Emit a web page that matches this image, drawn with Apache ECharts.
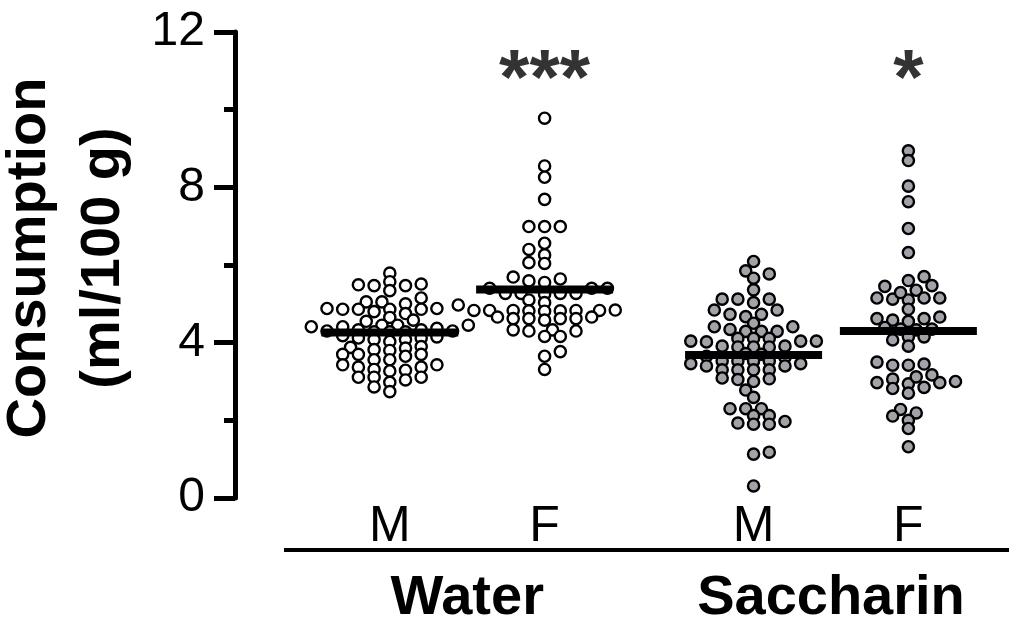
<!DOCTYPE html>
<html>
<head>
<meta charset="utf-8">
<script src="https://cdn.jsdelivr.net/npm/echarts@6/dist/echarts.min.js"></script>
<style>html,body{margin:0;padding:0;background:#fff}#c{width:1009px;height:627px}</style>
</head>
<body>
<div id="c"></div>
<script>
// ---------- data ----------
const sexLabels = ['M', 'F', 'M', 'F'];
const groupPositions = [1, 2, 3.35, 4.35];
const conditionLabels = ['Water', 'Saccharin'];
const conditionPositions = [1.5, 3.85];
const yTicks = [0, 4, 8, 12];
const significance = ['', '***', '', '*'];
const medians = [4.26, 5.37, 3.68, 4.30];

const waterM = [5.79, 5.57, 5.47, 5.47, 5.49, 5.51, 5.34, 5.15, 5.05, 5.00, 5.05,
  4.88, 4.86, 4.86, 4.80, 4.75, 4.86, 4.86, 4.88,
  4.65, 4.55, 4.58,
  4.45, 4.45, 4.41, 4.37, 4.41, 4.45,
  4.28, 4.28, 4.33, 4.33, 4.28, 4.30, 4.30,
  4.08, 4.18, 4.12, 4.12, 4.15, 4.08, 4.03,
  3.90, 3.86, 3.82, 3.88,
  3.80, 3.70, 3.65, 3.70, 3.70,
  3.56, 3.56, 3.43, 3.43,
  3.37, 3.29, 3.27, 3.31, 3.37,
  3.11, 3.11, 2.98, 3.04, 3.11,
  2.86, 2.74];
const waterF = [9.78, 8.55, 8.26, 7.69, 6.99, 6.99, 6.99, 6.56, 6.40, 6.26, 6.04, 6.06,
  5.69, 5.59, 5.55, 5.64,
  5.40, 5.40, 5.40,
  5.27, 5.27, 5.25, 5.27, 5.27,
  5.03, 4.97, 5.10,
  4.83, 4.83, 4.82, 4.84, 4.83, 4.81, 4.83, 4.82, 4.83,
  4.62, 4.62, 4.58, 4.66, 4.66, 4.62, 4.62,
  4.33, 4.30, 4.30, 4.33,
  4.16, 4.16,
  3.77, 3.65,
  3.31];
const saccM = [6.09, 5.85, 5.77, 5.66, 5.36, 5.12, 5.12, 5.12, 5.03, 4.84, 4.84, 4.73, 4.73,
  4.67, 4.50, 4.41, 4.41, 4.34, 4.29, 4.29, 4.29, 4.11, 4.11, 4.11, 4.04, 4.04, 4.04, 4.02,
  3.91, 3.91, 3.89, 3.89, 3.89,
  3.72, 3.65, 3.70, 3.62,
  3.46, 3.46, 3.40, 3.40, 3.53, 3.53, 3.53, 3.53, 3.30, 3.30, 3.30, 3.30,
  3.09, 3.05, 3.00, 3.07, 2.78, 2.59, 2.30, 2.30, 2.30, 2.12, 2.12,
  1.93, 1.90, 1.90, 1.97, 1.18, 1.13, 0.31];
const saccF = [8.94, 8.69, 8.03, 7.63, 6.94, 6.32, 5.70, 5.60, 5.45, 5.47, 5.35,
  5.15, 5.12, 5.10, 5.15, 5.15, 5.29, 4.86,
  4.62, 4.58, 4.55, 4.62, 4.66,
  4.39, 4.35, 4.33, 4.35,
  4.15, 4.07, 4.15, 3.91,
  3.45, 3.42, 3.50, 3.42,
  3.06, 2.97, 2.94, 2.82, 3.12, 3.17, 2.85, 2.97, 3.00, 2.70,
  2.19, 2.28, 2.00, 2.11, 1.79, 1.32];

const groups = [waterM, waterF, saccM, saccF];

// ---------- layout ----------
const W = 1009, H = 627;
const GRID = { left: 235, right: 0, top: 32, bottom: 129 };
const X_MIN = 0, X_MAX = 5, Y_MIN = 0, Y_MAX = 12;
const pxPerX = (W - GRID.left - GRID.right) / (X_MAX - X_MIN);
const pxPerY = (H - GRID.top - GRID.bottom) / (Y_MAX - Y_MIN);
const FONT = '"Liberation Sans", Arial, Helvetica, sans-serif';

// Prism-like dot layout on a half-column grid: a dot may sit beside another one
// (one full column apart) or diagonally (half a column) if the rows differ enough
function gridSwarm(vals) {
  const COL = 15.7, HALF = COL / 2, DY = 7.4;
  const order = vals.map((v, i) => i).sort((a, b) => vals[a] - vals[b] || a - b);
  const placed = [];
  const off = new Array(vals.length).fill(0);
  let flip = false;
  for (const i of order) {
    const y = vals[i] * pxPerY;
    let chosen = 0;
    for (let k = 0; k < 40; k++) {
      const cands = k === 0 ? [0] : (flip ? [-k * HALF, k * HALF] : [k * HALF, -k * HALF]);
      let found = null;
      for (const c of cands) {
        const clash = placed.some(p => {
          const ex = (p[0] - c) / COL, ey = (p[1] - y) / DY;
          return ex * ex + ey * ey < 0.999;
        });
        if (!clash) { found = c; break; }
      }
      if (found !== null) { chosen = found; break; }
    }
    flip = !flip;
    placed.push([chosen, y]);
    off[i] = chosen;
  }
  return off;
}

const fills = ['#ffffff', '#ffffff', '#a2a2a8', '#a2a2a8'];
const series = groups.map((vals, g) => {
  const off = gridSwarm(vals);
  return {
    type: 'scatter',
    data: vals.map((v, i) => [groupPositions[g] + off[i] / pxPerX, v]),
    symbol: 'circle',
    symbolSize: 11.2,
    itemStyle: { color: fills[g], borderColor: '#000', borderWidth: 2.4, opacity: 1 },
    z: 2,
    silent: true
  };
});
series.push({
  type: 'scatter',
  data: medians.map((m, g) => [groupPositions[g], m]),
  symbol: 'rect',
  symbolSize: [137, 8],
  itemStyle: { color: '#000', opacity: 1 },
  z: 5,
  silent: true
});
series.push({
  type: 'scatter',
  data: significance.map((s, g) => ({ value: [groupPositions[g], 10.7], label: { formatter: s } })),
  symbolSize: 1,
  itemStyle: { color: 'rgba(0,0,0,0)' },
  label: { show: true, position: 'inside', color: '#000', textBorderWidth: 0, fontSize: 78, fontWeight: 'bold', fontFamily: FONT },
  z: 6,
  silent: true
});

function lookup(positions, labels) {
  return function (v) {
    for (let i = 0; i < positions.length; i++) if (Math.abs(positions[i] - v) < 1e-6) return labels[i];
    return '';
  };
}

const chart = echarts.init(document.getElementById('c'), null, { renderer: 'canvas' });
chart.setOption({
  animation: false,
  backgroundColor: '#fff',
  grid: { left: GRID.left, right: GRID.right, top: GRID.top, bottom: GRID.bottom, containLabel: false, outerBoundsMode: 'none' },
  xAxis: [{
    type: 'value', min: X_MIN, max: X_MAX, position: 'bottom',
    axisLine: { show: false }, axisTick: { show: false }, splitLine: { show: false },
    axisLabel: {
      customValues: groupPositions, formatter: lookup(groupPositions, sexLabels),
      fontSize: 50, color: '#000', fontFamily: FONT, margin: 4
    }
  }, {
    type: 'value', min: X_MIN, max: X_MAX, position: 'bottom', offset: 64,
    axisLine: { show: false }, axisTick: { show: false }, splitLine: { show: false },
    axisLabel: {
      customValues: conditionPositions, formatter: lookup(conditionPositions, conditionLabels),
      fontSize: 56, fontWeight: 'bold', color: '#000', fontFamily: FONT, margin: 9
    }
  }],
  yAxis: {
    type: 'value', min: Y_MIN, max: Y_MAX, interval: 4,
    axisLine: { show: true, lineStyle: { color: '#000', width: 5 } },
    axisTick: { show: true, length: 21, lineStyle: { color: '#000', width: 5 } },
    minorTick: { show: true, splitNumber: 2, length: 11, lineStyle: { color: '#000', width: 5 } },
    splitLine: { show: false },
    axisLabel: {
      customValues: yTicks,
      fontSize: 48, color: '#000', fontFamily: FONT, margin: 30
    },
    name: 'Consumption\n(ml/100 g)',
    nameLocation: 'middle', nameRotate: 90, nameGap: 92,
    nameTextStyle: { fontSize: 56, fontWeight: 'bold', color: '#000', fontFamily: FONT, lineHeight: 74, padding: [0, 0, 0, 14] }
  },
  graphic: [{
    type: 'line', shape: { x1: 284, y1: 550, x2: 1009, y2: 550 },
    style: { stroke: '#000', lineWidth: 4 }, silent: true
  }],
  series: series
});
</script>
</body>
</html>
